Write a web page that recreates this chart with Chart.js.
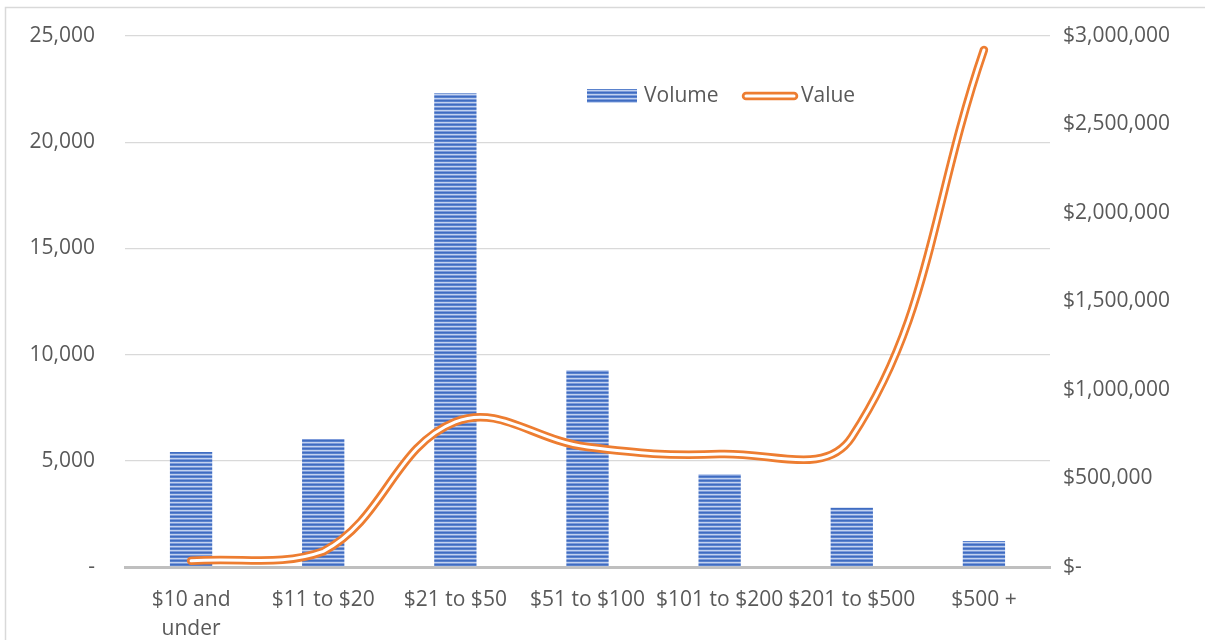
<!DOCTYPE html>
<html><head><meta charset="utf-8">
<script src="https://cdn.jsdelivr.net/npm/chart.js@4"></script>
<style>html,body{margin:0;padding:0;background:#fff;overflow:hidden}</style>
</head><body>
<canvas id="c" width="1205" height="640"></canvas>
<script>
const categories = [['$10 and', 'under'], '$11 to $20', '$21 to $50', '$51 to $100', '$101 to $200', '$201 to $500', '$500 +'];
const volume = [5410, 6030, 22300, 9275, 4380, 2790, 1220];
const value = [35000, 88000, 820000, 678000, 638000, 734000, 2921000];
const leftTickLabels = ['-', '5,000', '10,000', '15,000', '20,000', '25,000'];
const rightTickLabels = ['$-', '$500,000', '$1,000,000', '$1,500,000', '$2,000,000', '$2,500,000', '$3,000,000'];
const seriesNames = ['Volume', 'Value'];

const FONT = '"Open Sans", "Noto Sans", sans-serif';
const TXT = '#595959';
const ORANGE = '#ed7d31';

const canvas = document.getElementById('c');
const ctx = canvas.getContext('2d');

// striped fill for the bars
const pc = document.createElement('canvas');
pc.width = 4; pc.height = 4;
const pg = pc.getContext('2d');
['#3f6cc1', '#5a82cd', '#c2d2ef', '#7d9bda'].forEach((c, i) => { pg.fillStyle = c; pg.fillRect(0, i, 4, 1); });
const stripes = ctx.createPattern(pc, 'repeat');

const framePlugin = {
  id: 'frame',
  beforeDraw(chart) {
    const c = chart.ctx;
    c.save();
    c.fillStyle = '#fff';
    c.fillRect(0, 0, chart.width, chart.height);
    c.strokeStyle = '#d9d9d9';
    c.lineWidth = 1.5;
    c.strokeRect(5.5, 7.5, 1400, 800);
    c.restore();
  }
};

const legendPlugin = {
  id: 'customLegend',
  afterDraw(chart) {
    const c = chart.ctx;
    c.save();
    c.fillStyle = stripes;
    c.fillRect(587, 89, 50, 14);
    c.font = '21px ' + FONT;
    c.fillStyle = TXT;
    c.textBaseline = 'middle';
    c.textAlign = 'left';
    c.fillText(seriesNames[0], 644, 96);
    c.lineCap = 'round';
    c.strokeStyle = ORANGE;
    c.lineWidth = 8.5;
    c.beginPath(); c.moveTo(746, 96); c.lineTo(794, 96); c.stroke();
    c.strokeStyle = '#fff';
    c.lineWidth = 3;
    c.beginPath(); c.moveTo(746, 96); c.lineTo(794, 96); c.stroke();
    c.fillStyle = TXT;
    c.fillText(seriesNames[1], 801, 96);
    c.restore();
  }
};

function fixVertical(width) {
  return function (s) { s.width = width; s.paddingTop = 0; s.paddingBottom = 0; };
}

new Chart(ctx, {
  data: {
    labels: categories,
    datasets: [
      {
        type: 'line', label: seriesNames[1] + ' inner', data: value, yAxisID: 'y1',
        borderColor: '#ffffff', borderWidth: 3, tension: 0.4, pointRadius: 0,
        borderCapStyle: 'round', borderJoinStyle: 'round', fill: false, order: 0
      },
      {
        type: 'line', label: seriesNames[1], data: value, yAxisID: 'y1',
        borderColor: ORANGE, borderWidth: 8.5, tension: 0.4, pointRadius: 0,
        borderCapStyle: 'round', borderJoinStyle: 'round', fill: false, order: 1
      },
      {
        type: 'bar', label: seriesNames[0], data: volume, yAxisID: 'y',
        backgroundColor: stripes, borderWidth: 0,
        categoryPercentage: 1, barPercentage: 0.32, order: 3
      }
    ]
  },
  options: {
    responsive: false,
    animation: false,
    devicePixelRatio: 1,
    layout: { padding: { top: 36, left: 0, right: 0, bottom: 0 } },
    plugins: { legend: { display: false }, tooltip: { enabled: false } },
    scales: {
      x: {
        grid: { display: false },
        border: { display: true, color: '#bfbfbf', width: 3 },
        ticks: {
          color: TXT, font: { family: FONT, size: 21, lineHeight: 1.35 },
          padding: 11, maxRotation: 0, minRotation: 0, autoSkip: false
        },
        afterFit(s) { s.height = 73; }
      },
      y: {
        position: 'left', min: 0, max: 25000,
        grid: { color: '#d9d9d9', lineWidth: 1.3, drawTicks: false },
        border: { display: false },
        ticks: {
          stepSize: 5000, color: TXT, font: { family: FONT, size: 21 }, padding: 30,
          callback: (v, i) => leftTickLabels[i]
        },
        afterFit: fixVertical(125)
      },
      y1: {
        position: 'right', min: 0, max: 3000000,
        grid: { display: false, drawTicks: false },
        border: { display: false },
        ticks: {
          stepSize: 500000, color: TXT, font: { family: FONT, size: 21 }, padding: 13,
          callback: (v, i) => rightTickLabels[i]
        },
        afterFit: fixVertical(155)
      }
    }
  },
  plugins: [framePlugin, legendPlugin]
});
</script>
</body></html>
